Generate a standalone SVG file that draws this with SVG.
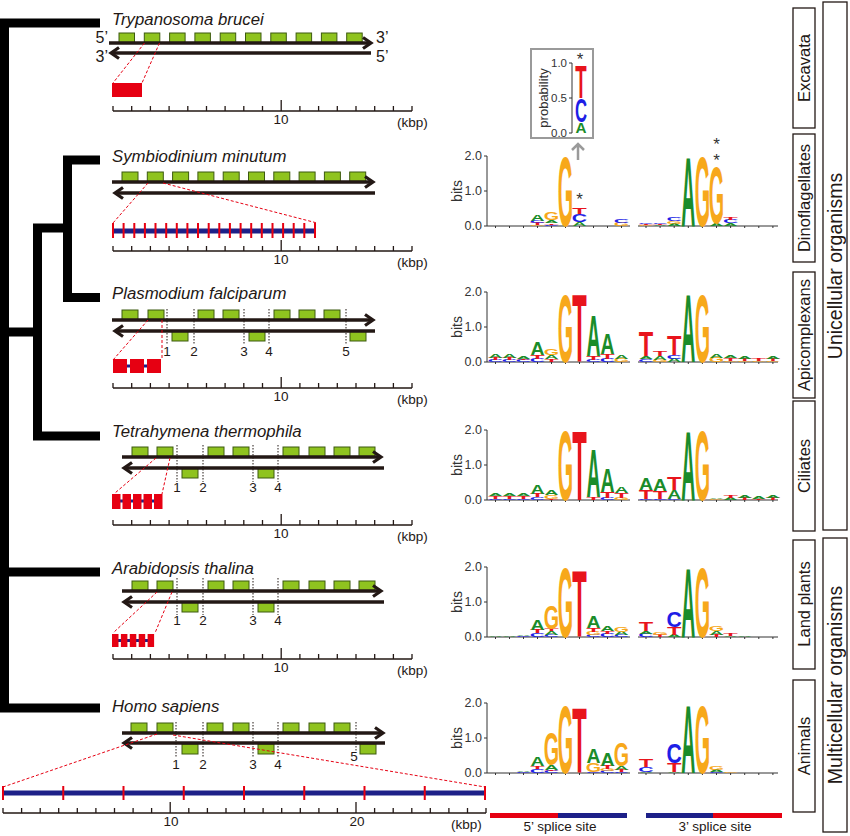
<svg xmlns="http://www.w3.org/2000/svg" width="850" height="836" viewBox="0 0 850 836">
<style>
.tree{fill:none;stroke:#000;stroke-width:9;stroke-linejoin:miter;stroke-linecap:butt}
.ln{fill:none;stroke:#231815;stroke-width:3.5}
.gb{fill:#8fc31f;stroke:#3d5a10;stroke-width:1}
.dot{fill:none;stroke:#231815;stroke-width:1;stroke-dasharray:1.5 1.5}
.rd{fill:none;stroke:#e60012;stroke-width:1;stroke-dasharray:3 2}
.rt{fill:none;stroke:#e60012;stroke-width:2}
.rb{fill:#e60012}
.bb{fill:#1d2088}
.sc{fill:none;stroke:#231815;stroke-width:1.3}
.ax{fill:none;stroke:#333;stroke-width:1}
.sp{font-family:"Liberation Sans",Arial,sans-serif;font-style:italic;font-size:16.8px;fill:#231815}
.tx{font-family:"Liberation Sans",Arial,sans-serif;font-size:13.5px;fill:#231815}
.pr{font-family:"Liberation Sans",Arial,sans-serif;font-size:16px;fill:#231815}
.mid{text-anchor:middle}
.end{text-anchor:end}
.tl{font-family:"Liberation Sans",Arial,sans-serif;font-size:12.5px;fill:#333;text-anchor:end}
.bl{font-family:"Liberation Sans",Arial,sans-serif;font-size:14px;fill:#333;text-anchor:middle}
.st{font-family:"Liberation Sans",Arial,sans-serif;font-size:17px;fill:#333;text-anchor:middle}
.l{font-family:"Liberation Sans",Arial,sans-serif;font-weight:bold;font-size:10px;text-anchor:middle}
.a{fill:#1a8c2a}.c{fill:#1e1ee6}.g{fill:#f7a81b}.t{fill:#e8141c}
.bx{fill:none;stroke:#231815;stroke-width:1.3}
.gl{font-family:"Liberation Sans",Arial,sans-serif;font-size:16.5px;fill:#231815;text-anchor:middle}
.ol{font-family:"Liberation Sans",Arial,sans-serif;font-size:19.5px;fill:#231815;text-anchor:middle}
</style>
<defs>
<marker id="ah" markerUnits="userSpaceOnUse" markerWidth="16" markerHeight="16" viewBox="-12 -8 16 16" refX="0" refY="0" orient="auto" overflow="visible">
<path d="M-8,-5.5 L0,0 L-8,5.5" fill="none" stroke="#231815" stroke-width="3.2"/>
</marker>
<path id="sb" class="sc" d="M113,0 H412 M113,0 v-5 M131.7,0 v-5 M150.4,0 v-5 M169.1,0 v-5 M187.8,0 v-5 M206.5,0 v-5 M225.1,0 v-5 M243.8,0 v-5 M262.5,0 v-5 M281.2,0 v-11 M299.9,0 v-5 M318.6,0 v-5 M337.3,0 v-5 M356,0 v-5 M374.7,0 v-5 M393.4,0 v-5 M412,0 v-5"/>
<path id="axis" class="ax" d="M487,-70 V0 M484,-70 H487 M484,-35 H487 M484,0 H487 M487,0 H630 M638,0 H778 M495.5,0 v2 M509.5,0 v2 M523.5,0 v2 M537.5,0 v2 M551.5,0 v2 M565.5,0 v2 M579.5,0 v2 M593.5,0 v2 M607.5,0 v2 M621.5,0 v2 M646,0 v2 M660.1,0 v2 M674.2,0 v2 M688.3,0 v2 M702.4,0 v2 M716.5,0 v2 M730.6,0 v2 M744.7,0 v2 M758.8,0 v2 M772.9,0 v2"/>
</defs>

<g id="connectors">
<path class="tree" d="M100,23 H4.5 V708 H100"/>
<path class="tree" d="M100,160 H67.5 V297.5 H100"/>
<path class="tree" d="M67.5,228 H37.5 V436 H100"/>
<path class="tree" d="M4.5,332 H37.5"/>
<path class="tree" d="M4.5,572 H100"/>
</g>

<g id="trypanosoma">
<text class="sp" x="112" y="25">Trypanosoma brucei</text>
<g class="gb">
<rect x="119" y="33" width="15.5" height="10"/><rect x="144.3" y="33" width="15.5" height="10"/><rect x="169.6" y="33" width="15.5" height="10"/><rect x="194.9" y="33" width="15.5" height="10"/><rect x="220.2" y="33" width="15.5" height="10"/><rect x="245.5" y="33" width="15.5" height="10"/><rect x="270.8" y="33" width="15.5" height="10"/><rect x="296.1" y="33" width="15.5" height="10"/><rect x="321.4" y="33" width="15.5" height="10"/><rect x="346.7" y="33" width="15.5" height="10"/>
</g>
<path class="ln" d="M109,43 H371" marker-end="url(#ah)"/>
<path class="ln" d="M371,53 H111" marker-end="url(#ah)"/>
<text class="pr end" x="108" y="43">5’</text>
<text class="pr" x="376" y="43">3’</text>
<text class="pr end" x="108" y="62">3’</text>
<text class="pr" x="376" y="62">5’</text>
<path class="rd" d="M144.5,43 L113,83 M159.5,43 L142,83"/>
<rect class="rb" x="112" y="83" width="30" height="14"/>
<use href="#sb" y="111"/>
<text class="tx mid" x="281" y="124">10</text>
<text class="tx" x="397" y="127">(kbp)</text>
</g>

<g id="symbiodinium">
<text class="sp" x="112" y="162">Symbiodinium minutum</text>
<g class="gb">
<rect x="122" y="172" width="16" height="10"/><rect x="147.3" y="172" width="16" height="10"/><rect x="172.6" y="172" width="16" height="10"/><rect x="197.9" y="172" width="16" height="10"/><rect x="223.2" y="172" width="16" height="10"/><rect x="248.5" y="172" width="16" height="10"/><rect x="273.8" y="172" width="16" height="10"/><rect x="299.1" y="172" width="16" height="10"/><rect x="324.4" y="172" width="16" height="10"/><rect x="349.7" y="172" width="16" height="10"/>
</g>
<path class="ln" d="M112,182 H373" marker-end="url(#ah)"/>
<path class="ln" d="M375,193 H115" marker-end="url(#ah)"/>
<path class="rd" d="M148,183 L113,223 M163,183 L317,223"/>
<rect class="bb" x="113" y="228.5" width="202" height="5"/>
<path class="rt" d="M113,223 V238 M123.6,223 V238 M134.3,223 V238 M144.9,223 V238 M155.5,223 V238 M166.2,223 V238 M176.8,223 V238 M187.4,223 V238 M198,223 V238 M208.7,223 V238 M219.3,223 V238 M229.9,223 V238 M240.6,223 V238 M251.2,223 V238 M261.8,223 V238 M272.5,223 V238 M283.1,223 V238 M293.7,223 V238 M304.3,223 V238 M315,223 V238"/>
<use href="#sb" y="251"/>
<text class="tx mid" x="281" y="264">10</text>
<text class="tx" x="397" y="267">(kbp)</text>
</g>

<g id="plasmodium">
<text class="sp" x="112" y="299">Plasmodium falciparum</text>
<g class="gb">
<rect x="122" y="310" width="16" height="10"/><rect x="148" y="310" width="16" height="10"/><rect x="198" y="310" width="16" height="10"/><rect x="223" y="310" width="16" height="10"/><rect x="274" y="310" width="16" height="10"/><rect x="299" y="310" width="16" height="10"/><rect x="324" y="310" width="16" height="10"/>
<rect x="172" y="331" width="16" height="10"/><rect x="249" y="331" width="16" height="10"/><rect x="350" y="331" width="16" height="10"/>
</g>
<path class="ln" d="M112,320 H373" marker-end="url(#ah)"/>
<path class="ln" d="M375,331 H115" marker-end="url(#ah)"/>
<path class="dot" d="M167,309 V345 M194,309 V345 M244,309 V345 M269,309 V345 M346,309 V345"/>
<text class="tx mid" x="167" y="356">1</text><text class="tx mid" x="194" y="356">2</text><text class="tx mid" x="244" y="356">3</text><text class="tx mid" x="269" y="356">4</text><text class="tx mid" x="346" y="356">5</text>
<path class="rd" d="M148,320 L113,360 M162,320 L162,360"/>
<rect class="bb" x="113" y="364.5" width="48" height="3"/>
<rect class="rb" x="113" y="359" width="14" height="14"/><rect class="rb" x="130" y="359" width="14" height="14"/><rect class="rb" x="147" y="359" width="14" height="14"/>
<use href="#sb" y="388"/>
<text class="tx mid" x="281" y="401">10</text>
<text class="tx" x="397" y="404">(kbp)</text>
</g>

<g id="tetrahymena">
<text class="sp" x="112" y="437">Tetrahymena thermophila</text>
<g class="gb">
<rect x="132" y="447" width="16" height="10"/><rect x="157" y="447" width="16" height="10"/><rect x="208" y="447" width="16" height="10"/><rect x="233" y="447" width="16" height="10"/><rect x="283" y="447" width="16" height="10"/><rect x="309" y="447" width="16" height="10"/><rect x="334" y="447" width="16" height="10"/><rect x="359" y="447" width="16" height="10"/>
<rect x="182" y="468" width="16" height="10"/><rect x="258" y="468" width="16" height="10"/>
</g>
<path class="ln" d="M122,457 H381" marker-end="url(#ah)"/>
<path class="ln" d="M384,468 H124" marker-end="url(#ah)"/>
<path class="dot" d="M177,445 V482 M203,445 V482 M253,445 V482 M278,445 V482"/>
<text class="tx mid" x="177" y="492">1</text><text class="tx mid" x="203" y="492">2</text><text class="tx mid" x="253" y="492">3</text><text class="tx mid" x="278" y="492">4</text>
<path class="rd" d="M156,458 L115,493 M170,458 L162,494"/>
<rect class="bb" x="112" y="499.5" width="50" height="3"/>
<rect class="rb" x="112" y="494" width="8.5" height="15"/><rect class="rb" x="122.5" y="494" width="8.5" height="15"/><rect class="rb" x="133" y="494" width="8.5" height="15"/><rect class="rb" x="143.5" y="494" width="8.5" height="15"/><rect class="rb" x="154" y="494" width="8.5" height="15"/>
<use href="#sb" y="525"/>
<text class="tx mid" x="281" y="538">10</text>
<text class="tx" x="397" y="541">(kbp)</text>
</g>

<g id="arabidopsis">
<text class="sp" x="112" y="574">Arabidopsis thalina</text>
<g class="gb">
<rect x="132" y="581" width="16" height="10"/><rect x="157" y="581" width="16" height="10"/><rect x="208" y="581" width="16" height="10"/><rect x="233" y="581" width="16" height="10"/><rect x="283" y="581" width="16" height="10"/><rect x="309" y="581" width="16" height="10"/><rect x="334" y="581" width="16" height="10"/><rect x="359" y="581" width="16" height="10"/>
<rect x="182" y="602" width="16" height="10"/><rect x="258" y="602" width="16" height="10"/>
</g>
<path class="ln" d="M122,591 H381" marker-end="url(#ah)"/>
<path class="ln" d="M384,602 H124" marker-end="url(#ah)"/>
<path class="dot" d="M177,578 V615 M203,578 V615 M253,578 V615 M278,578 V615"/>
<text class="tx mid" x="177" y="625">1</text><text class="tx mid" x="203" y="625">2</text><text class="tx mid" x="253" y="625">3</text><text class="tx mid" x="278" y="625">4</text>
<path class="rd" d="M157,592 L113,633 M172,592 L155,633"/>
<rect class="bb" x="112" y="639" width="42" height="3"/>
<rect class="rb" x="112" y="634" width="6.5" height="13"/><rect class="rb" x="120.9" y="634" width="6.5" height="13"/><rect class="rb" x="129.8" y="634" width="6.5" height="13"/><rect class="rb" x="138.7" y="634" width="6.5" height="13"/><rect class="rb" x="147.6" y="634" width="6.5" height="13"/>
<use href="#sb" y="659"/>
<text class="tx mid" x="281" y="672">10</text>
<text class="tx" x="397" y="675">(kbp)</text>
</g>

<g id="homo">
<text class="sp" x="112" y="712">Homo sapiens</text>
<g class="gb">
<rect x="131" y="723" width="16" height="10"/><rect x="157" y="723" width="16" height="10"/><rect x="207" y="723" width="16" height="10"/><rect x="233" y="723" width="16" height="10"/><rect x="283" y="723" width="16" height="10"/><rect x="309" y="723" width="16" height="10"/><rect x="334" y="723" width="16" height="10"/>
<rect x="182" y="744" width="16" height="10"/><rect x="258" y="744" width="16" height="10"/><rect x="360" y="744" width="16" height="10"/>
</g>
<path class="ln" d="M122,733 H383" marker-end="url(#ah)"/>
<path class="ln" d="M385,743 H124" marker-end="url(#ah)"/>
<path class="dot" d="M176,722 V757 M203,722 V757 M253,722 V757 M278,722 V757 M356,722 V751"/>
<text class="tx mid" x="176" y="769">1</text><text class="tx mid" x="203" y="769">2</text><text class="tx mid" x="253" y="769">3</text><text class="tx mid" x="278" y="769">4</text><text class="tx mid" x="354" y="761">5</text>
<path class="rd" d="M157,734 L3,787 M173,735 L485,787"/>
<rect class="bb" x="3" y="790.5" width="482" height="5"/>
<path class="rt" d="M3,786 V800 M63.25,786 V800 M123.5,786 V800 M183.75,786 V800 M244,786 V800 M304.25,786 V800 M364.5,786 V800 M424.75,786 V800 M485,786 V800"/>
<path class="sc" d="M3,813 H486 M3,813 v-5 M21.6,813 v-5 M40.2,813 v-5 M58.7,813 v-5 M77.3,813 v-5 M95.9,813 v-5 M114.5,813 v-5 M133.1,813 v-5 M151.6,813 v-5 M170.2,813 v-11 M188.8,813 v-5 M207.4,813 v-5 M226,813 v-5 M244.5,813 v-5 M263.1,813 v-5 M281.7,813 v-5 M300.3,813 v-5 M318.9,813 v-5 M337.4,813 v-5 M356,813 v-11 M374.6,813 v-5 M393.2,813 v-5 M411.8,813 v-5 M430.3,813 v-5 M448.9,813 v-5 M467.5,813 v-5 M486,813 v-5"/>
<text class="tx mid" x="171" y="826">10</text>
<text class="tx mid" x="357" y="826">20</text>
<text class="tx" x="451" y="829">(kbp)</text>
</g>

<g id="inset">
<rect x="531" y="49" width="62" height="89" fill="#fff" stroke="#9a9a9a" stroke-width="2"/>
<path class="ax" d="M572,63 V133 M569,63 H572 M569,98 H572 M569,133 H572"/>
<text class="tl" x="567" y="67" style="font-size:11.5px">1.0</text><text class="tl" x="567" y="102" style="font-size:11.5px">0.5</text><text class="tl" x="567" y="137" style="font-size:11.5px">0.0</text>
<text class="bl" transform="translate(548,98) rotate(-90)" style="font-size:13px">probability</text>
<text class="l a" transform="translate(581,133) scale(1.53,1.397)">A</text>
<text class="l c" transform="translate(581,122) scale(1.67,3.352)">C</text>
<text class="l t" transform="translate(581,97.5) scale(1.86,4.61)">T</text>
<text class="st" x="580" y="65">*</text>
<path d="M578,160 V145 M572,150 L578,144 L584,150" fill="none" stroke="#9a9a9a" stroke-width="2.5"/>
</g>

<g id="logo-symbiodinium" transform="translate(0,226)">
<use href="#axis"/>
<text class="tl" x="482" y="-66">2.0</text><text class="tl" x="482" y="-31">1.0</text><text class="tl" x="482" y="4">0.0</text>
<text class="bl" transform="translate(462,-35) rotate(-90)">bits</text>
<text class="l g" transform="translate(537.5,0) scale(1.97,.209)">G</text>
<text class="l t" transform="translate(537.5,-1.5) scale(2.37,.279)">T</text>
<text class="l c" transform="translate(537.5,-3.5) scale(2.12,.279)">C</text>
<text class="l a" transform="translate(537.5,-5.5) scale(1.94,.908)">A</text>
<text class="l c" transform="translate(551.5,0) scale(2.12,.209)">C</text>
<text class="l t" transform="translate(551.5,-1.5) scale(2.37,.209)">T</text>
<text class="l a" transform="translate(551.5,-3) scale(1.94,.419)">A</text>
<text class="l g" transform="translate(551.5,-6) scale(1.97,1.047)">G</text>
<text class="l g" transform="translate(565.5,0) scale(1.97,9.777)">G</text>
<text class="l a" transform="translate(579.5,0) scale(1.94,.559)">A</text>
<text class="l c" transform="translate(579.5,-4) scale(2.12,1.117)">C</text>
<text class="l t" transform="translate(579.5,-12) scale(2.37,.978)">T</text>
<text class="l g" transform="translate(621.5,0) scale(1.97,.489)">G</text>
<text class="l c" transform="translate(621.5,-3.5) scale(2.12,.489)">C</text>
<text class="l g" transform="translate(646,0) scale(1.97,.14)">G</text>
<text class="l t" transform="translate(646,-1) scale(2.37,.14)">T</text>
<text class="l c" transform="translate(646,-2) scale(2.12,.209)">C</text>
<text class="l a" transform="translate(660.1,0) scale(1.94,.14)">A</text>
<text class="l t" transform="translate(660.1,-1) scale(2.37,.14)">T</text>
<text class="l c" transform="translate(660.1,-2) scale(2.12,.209)">C</text>
<text class="l a" transform="translate(674.2,0) scale(1.94,.279)">A</text>
<text class="l g" transform="translate(674.2,-2) scale(1.97,.419)">G</text>
<text class="l c" transform="translate(674.2,-5) scale(2.12,.559)">C</text>
<text class="l a" transform="translate(688.3,0) scale(1.94,9.777)">A</text>
<text class="l g" transform="translate(702.4,0) scale(1.97,9.777)">G</text>
<text class="l a" transform="translate(716.5,0) scale(1.94,.419)">A</text>
<text class="l g" transform="translate(716.5,-3) scale(1.97,7.961)">G</text>
<text class="l a" transform="translate(730.6,0) scale(1.94,.419)">A</text>
<text class="l c" transform="translate(730.6,-3) scale(2.12,.489)">C</text>
<text class="l t" transform="translate(730.6,-6.5) scale(2.37,.349)">T</text>
<text class="st" x="579.5" y="-21">*</text>
<text class="st" x="716.5" y="-76">*</text>
<text class="st" x="716.5" y="-60">*</text>
</g>

<g id="logo-plasmodium" transform="translate(0,362)">
<use href="#axis"/>
<text class="tl" x="482" y="-66">2.0</text><text class="tl" x="482" y="-31">1.0</text><text class="tl" x="482" y="4">0.0</text>
<text class="bl" transform="translate(462,-35) rotate(-90)">bits</text>
<text class="l c" transform="translate(495.5,0) scale(2.12,.279)">C</text>
<text class="l t" transform="translate(495.5,-2) scale(2.37,.349)">T</text>
<text class="l a" transform="translate(495.5,-4.5) scale(1.94,.489)">A</text>
<text class="l c" transform="translate(509.5,0) scale(2.12,.279)">C</text>
<text class="l t" transform="translate(509.5,-2) scale(2.37,.349)">T</text>
<text class="l a" transform="translate(509.5,-4.5) scale(1.94,.559)">A</text>
<text class="l c" transform="translate(523.5,0) scale(2.12,.279)">C</text>
<text class="l t" transform="translate(523.5,-2) scale(2.37,.209)">T</text>
<text class="l a" transform="translate(523.5,-3.5) scale(1.94,.419)">A</text>
<text class="l c" transform="translate(537.5,0) scale(2.12,.489)">C</text>
<text class="l t" transform="translate(537.5,-3.5) scale(2.37,.489)">T</text>
<text class="l a" transform="translate(537.5,-7) scale(1.94,1.816)">A</text>
<text class="l t" transform="translate(551.5,0) scale(2.37,.419)">T</text>
<text class="l a" transform="translate(551.5,-3) scale(1.94,.559)">A</text>
<text class="l g" transform="translate(551.5,-7) scale(1.97,.978)">G</text>
<text class="l g" transform="translate(565.5,0) scale(1.97,9.637)">G</text>
<text class="l t" transform="translate(579.5,0) scale(2.37,9.637)">T</text>
<text class="l c" transform="translate(593.5,0) scale(2.12,.279)">C</text>
<text class="l t" transform="translate(593.5,-2) scale(2.37,.559)">T</text>
<text class="l a" transform="translate(593.5,-6) scale(1.94,5.726)">A</text>
<text class="l c" transform="translate(607.5,0) scale(2.12,.489)">C</text>
<text class="l t" transform="translate(607.5,-3.5) scale(2.37,.628)">T</text>
<text class="l a" transform="translate(607.5,-8) scale(1.94,2.863)">A</text>
<text class="l g" transform="translate(621.5,0) scale(1.97,.489)">G</text>
<text class="l a" transform="translate(621.5,-3.5) scale(1.94,.489)">A</text>
<text class="l c" transform="translate(646,0) scale(2.12,.419)">C</text>
<text class="l a" transform="translate(646,-3) scale(1.94,.419)">A</text>
<text class="l t" transform="translate(646,-6) scale(2.37,3.492)">T</text>
<text class="l g" transform="translate(660.1,0) scale(1.97,.279)">G</text>
<text class="l a" transform="translate(660.1,-2) scale(1.94,.559)">A</text>
<text class="l t" transform="translate(660.1,-6) scale(2.37,.628)">T</text>
<text class="l a" transform="translate(674.2,0) scale(1.94,.489)">A</text>
<text class="l c" transform="translate(674.2,-3.5) scale(2.12,.559)">C</text>
<text class="l t" transform="translate(674.2,-7.5) scale(2.37,2.793)">T</text>
<text class="l a" transform="translate(688.3,0) scale(1.94,9.637)">A</text>
<text class="l g" transform="translate(702.4,0) scale(1.97,9.637)">G</text>
<text class="l g" transform="translate(716.5,0) scale(1.97,.628)">G</text>
<text class="l a" transform="translate(716.5,-4.5) scale(1.94,.489)">A</text>
<text class="l g" transform="translate(730.6,0) scale(1.97,.209)">G</text>
<text class="l t" transform="translate(730.6,-1.5) scale(2.37,.349)">T</text>
<text class="l a" transform="translate(730.6,-4) scale(1.94,.419)">A</text>
<text class="l g" transform="translate(744.7,0) scale(1.97,.209)">G</text>
<text class="l t" transform="translate(744.7,-1.5) scale(2.37,.279)">T</text>
<text class="l a" transform="translate(744.7,-3.5) scale(1.94,.419)">A</text>
<text class="l g" transform="translate(758.8,0) scale(1.97,.209)">G</text>
<text class="l t" transform="translate(758.8,-1.5) scale(2.37,.349)">T</text>
<text class="l g" transform="translate(772.9,0) scale(1.97,.209)">G</text>
<text class="l t" transform="translate(772.9,-1.5) scale(2.37,.279)">T</text>
<text class="l a" transform="translate(772.9,-3.5) scale(1.94,.279)">A</text>
</g>

<g id="logo-tetrahymena" transform="translate(0,500)">
<use href="#axis"/>
<text class="tl" x="482" y="-66">2.0</text><text class="tl" x="482" y="-31">1.0</text><text class="tl" x="482" y="4">0.0</text>
<text class="bl" transform="translate(462,-35) rotate(-90)">bits</text>
<text class="l c" transform="translate(495.5,0) scale(2.12,.209)">C</text>
<text class="l t" transform="translate(495.5,-1.5) scale(2.37,.349)">T</text>
<text class="l a" transform="translate(495.5,-4) scale(1.94,.349)">A</text>
<text class="l c" transform="translate(509.5,0) scale(2.12,.209)">C</text>
<text class="l t" transform="translate(509.5,-1.5) scale(2.37,.349)">T</text>
<text class="l a" transform="translate(509.5,-4) scale(1.94,.419)">A</text>
<text class="l c" transform="translate(523.5,0) scale(2.12,.209)">C</text>
<text class="l t" transform="translate(523.5,-1.5) scale(2.37,.349)">T</text>
<text class="l a" transform="translate(523.5,-4) scale(1.94,.349)">A</text>
<text class="l c" transform="translate(537.5,0) scale(2.12,.419)">C</text>
<text class="l t" transform="translate(537.5,-3) scale(2.37,.489)">T</text>
<text class="l a" transform="translate(537.5,-6.5) scale(1.94,1.327)">A</text>
<text class="l t" transform="translate(551.5,0) scale(2.37,.209)">T</text>
<text class="l g" transform="translate(551.5,-1.5) scale(1.97,.489)">G</text>
<text class="l a" transform="translate(551.5,-5) scale(1.94,.628)">A</text>
<text class="l g" transform="translate(565.5,0) scale(1.97,9.777)">G</text>
<text class="l t" transform="translate(579.5,0) scale(2.37,9.777)">T</text>
<text class="l t" transform="translate(593.5,0) scale(2.37,.419)">T</text>
<text class="l a" transform="translate(593.5,-3) scale(1.94,6.844)">A</text>
<text class="l c" transform="translate(607.5,0) scale(2.12,.279)">C</text>
<text class="l t" transform="translate(607.5,-2) scale(2.37,.908)">T</text>
<text class="l a" transform="translate(607.5,-8.5) scale(1.94,3.352)">A</text>
<text class="l g" transform="translate(621.5,0) scale(1.97,.349)">G</text>
<text class="l t" transform="translate(621.5,-2.5) scale(2.37,.628)">T</text>
<text class="l a" transform="translate(621.5,-7) scale(1.94,.908)">A</text>
<text class="l c" transform="translate(646,0) scale(2.12,.209)">C</text>
<text class="l t" transform="translate(646,-1.5) scale(2.37,1.257)">T</text>
<text class="l a" transform="translate(646,-10.5) scale(1.94,1.676)">A</text>
<text class="l c" transform="translate(660.1,0) scale(2.12,.209)">C</text>
<text class="l t" transform="translate(660.1,-1.5) scale(2.37,1.047)">T</text>
<text class="l a" transform="translate(660.1,-9) scale(1.94,1.676)">A</text>
<text class="l c" transform="translate(674.2,0) scale(2.12,.209)">C</text>
<text class="l a" transform="translate(674.2,-1.5) scale(1.94,1.187)">A</text>
<text class="l t" transform="translate(674.2,-10) scale(2.37,1.816)">T</text>
<text class="l a" transform="translate(688.3,0) scale(1.94,9.777)">A</text>
<text class="l g" transform="translate(702.4,0) scale(1.97,9.777)">G</text>
<text class="l g" transform="translate(716.5,0) scale(1.97,.14)">G</text>
<text class="l a" transform="translate(716.5,-1) scale(1.94,.209)">A</text>
<text class="l a" transform="translate(730.6,0) scale(1.94,.279)">A</text>
<text class="l t" transform="translate(730.6,-2) scale(2.37,.419)">T</text>
<text class="l t" transform="translate(744.7,0) scale(2.37,.349)">T</text>
<text class="l a" transform="translate(744.7,-2.5) scale(1.94,.419)">A</text>
<text class="l t" transform="translate(758.8,0) scale(2.37,.209)">T</text>
<text class="l a" transform="translate(758.8,-1.5) scale(1.94,.279)">A</text>
<text class="l t" transform="translate(772.9,0) scale(2.37,.279)">T</text>
<text class="l a" transform="translate(772.9,-2) scale(1.94,.279)">A</text>
</g>

<g id="logo-arabidopsis" transform="translate(0,637)">
<use href="#axis"/>
<text class="tl" x="482" y="-66">2.0</text><text class="tl" x="482" y="-31">1.0</text><text class="tl" x="482" y="4">0.0</text>
<text class="bl" transform="translate(462,-35) rotate(-90)">bits</text>
<text class="l a" transform="translate(495.5,0) scale(1.94,.14)">A</text>
<text class="l a" transform="translate(509.5,0) scale(1.94,.14)">A</text>
<text class="l c" transform="translate(523.5,0) scale(2.12,.209)">C</text>
<text class="l a" transform="translate(523.5,-1.5) scale(1.94,.209)">A</text>
<text class="l c" transform="translate(537.5,0) scale(2.12,.559)">C</text>
<text class="l t" transform="translate(537.5,-4) scale(2.37,.489)">T</text>
<text class="l a" transform="translate(537.5,-7.5) scale(1.94,1.397)">A</text>
<text class="l c" transform="translate(551.5,0) scale(2.12,.279)">C</text>
<text class="l a" transform="translate(551.5,-2) scale(1.94,.559)">A</text>
<text class="l t" transform="translate(551.5,-6) scale(2.37,.349)">T</text>
<text class="l g" transform="translate(551.5,-8.5) scale(1.97,3.282)">G</text>
<text class="l g" transform="translate(565.5,0) scale(1.97,9.916)">G</text>
<text class="l t" transform="translate(579.5,0) scale(2.37,9.497)">T</text>
<text class="l c" transform="translate(593.5,0) scale(2.12,.279)">C</text>
<text class="l g" transform="translate(593.5,-2) scale(1.97,.489)">G</text>
<text class="l t" transform="translate(593.5,-5.5) scale(2.37,.489)">T</text>
<text class="l a" transform="translate(593.5,-9) scale(1.94,1.676)">A</text>
<text class="l c" transform="translate(607.5,0) scale(2.12,.461)">C</text>
<text class="l t" transform="translate(607.5,-3.3) scale(2.37,.377)">T</text>
<text class="l a" transform="translate(607.5,-6) scale(1.94,.698)">A</text>
<text class="l c" transform="translate(621.5,0) scale(2.12,.279)">C</text>
<text class="l a" transform="translate(621.5,-2) scale(1.94,.489)">A</text>
<text class="l g" transform="translate(621.5,-5.5) scale(1.97,.698)">G</text>
<text class="l c" transform="translate(646,0) scale(2.12,.489)">C</text>
<text class="l a" transform="translate(646,-3.5) scale(1.94,.419)">A</text>
<text class="l t" transform="translate(646,-6.5) scale(2.37,1.257)">T</text>
<text class="l t" transform="translate(660.1,0) scale(2.37,.279)">T</text>
<text class="l g" transform="translate(660.1,-2) scale(1.97,.349)">G</text>
<text class="l a" transform="translate(674.2,0) scale(1.94,.349)">A</text>
<text class="l t" transform="translate(674.2,-2.5) scale(2.37,1.047)">T</text>
<text class="l c" transform="translate(674.2,-10) scale(2.12,2.235)">C</text>
<text class="l a" transform="translate(688.3,0) scale(1.94,9.916)">A</text>
<text class="l g" transform="translate(702.4,0) scale(1.97,9.916)">G</text>
<text class="l t" transform="translate(716.5,0) scale(2.37,.279)">T</text>
<text class="l a" transform="translate(716.5,-2) scale(1.94,.559)">A</text>
<text class="l g" transform="translate(716.5,-6) scale(1.97,.698)">G</text>
<text class="l a" transform="translate(730.6,0) scale(1.94,.209)">A</text>
<text class="l t" transform="translate(730.6,-1.5) scale(2.37,.279)">T</text>
<text class="l a" transform="translate(744.7,0) scale(1.94,.14)">A</text>
</g>

<g id="logo-homo" transform="translate(0,773)">
<use href="#axis"/>
<text class="tl" x="482" y="-66">2.0</text><text class="tl" x="482" y="-31">1.0</text><text class="tl" x="482" y="4">0.0</text>
<text class="bl" transform="translate(462,-35) rotate(-90)">bits</text>
<text class="l c" transform="translate(523.5,0) scale(2.12,.209)">C</text>
<text class="l a" transform="translate(523.5,-1.5) scale(1.94,.209)">A</text>
<text class="l c" transform="translate(537.5,0) scale(2.12,.559)">C</text>
<text class="l t" transform="translate(537.5,-4) scale(2.37,.419)">T</text>
<text class="l a" transform="translate(537.5,-7) scale(1.94,1.327)">A</text>
<text class="l c" transform="translate(551.5,0) scale(2.12,.279)">C</text>
<text class="l t" transform="translate(551.5,-2) scale(2.37,.209)">T</text>
<text class="l a" transform="translate(551.5,-3.5) scale(1.94,.628)">A</text>
<text class="l g" transform="translate(551.5,-8) scale(1.97,4.609)">G</text>
<text class="l g" transform="translate(565.5,0) scale(1.97,9.637)">G</text>
<text class="l t" transform="translate(579.5,0) scale(2.37,9.218)">T</text>
<text class="l c" transform="translate(593.5,0) scale(2.12,.182)">C</text>
<text class="l g" transform="translate(593.5,-1.3) scale(1.97,1.187)">G</text>
<text class="l a" transform="translate(593.5,-9.8) scale(1.94,2.095)">A</text>
<text class="l c" transform="translate(607.5,0) scale(2.12,.279)">C</text>
<text class="l g" transform="translate(607.5,-2) scale(1.97,.279)">G</text>
<text class="l t" transform="translate(607.5,-4) scale(2.37,.489)">T</text>
<text class="l a" transform="translate(607.5,-7.5) scale(1.94,1.885)">A</text>
<text class="l c" transform="translate(621.5,0) scale(2.12,.209)">C</text>
<text class="l t" transform="translate(621.5,-1.5) scale(2.37,.279)">T</text>
<text class="l a" transform="translate(621.5,-3.5) scale(1.94,.559)">A</text>
<text class="l g" transform="translate(621.5,-7.5) scale(1.97,3.282)">G</text>
<text class="l a" transform="translate(646,0) scale(1.94,.209)">A</text>
<text class="l c" transform="translate(646,-1.5) scale(2.12,.628)">C</text>
<text class="l t" transform="translate(646,-6) scale(2.37,1.117)">T</text>
<text class="l a" transform="translate(674.2,0) scale(1.94,.182)">A</text>
<text class="l t" transform="translate(674.2,-1.3) scale(2.37,1.187)">T</text>
<text class="l c" transform="translate(674.2,-9.8) scale(2.12,2.793)">C</text>
<text class="l a" transform="translate(688.3,0) scale(1.94,9.637)">A</text>
<text class="l g" transform="translate(702.4,0) scale(1.97,9.637)">G</text>
<text class="l c" transform="translate(716.5,0) scale(2.12,.209)">C</text>
<text class="l a" transform="translate(716.5,-1.5) scale(1.94,.279)">A</text>
<text class="l g" transform="translate(716.5,-3.5) scale(1.97,.489)">G</text>
<text class="l g" transform="translate(730.6,0) scale(1.97,.14)">G</text>
</g>

<g id="splice-sites">
<rect class="rb" x="490" y="813" width="68" height="5"/>
<rect class="bb" x="558" y="813" width="69" height="5"/>
<rect class="bb" x="646" y="813" width="67" height="5"/>
<rect class="rb" x="713" y="813" width="69" height="5"/>
<text class="tx mid" x="560" y="831">5’ splice site</text>
<text class="tx mid" x="715" y="831">3’ splice site</text>
</g>

<g id="excavata"><rect class="bx" x="793" y="8" width="22" height="120"/><text class="gl" transform="translate(810,68) rotate(-90)">Excavata</text></g>
<g id="dinoflagellates"><rect class="bx" x="793" y="134" width="22" height="128"/><text class="gl" transform="translate(810,198) rotate(-90)">Dinoflagellates</text></g>
<g id="apicomplexans"><rect class="bx" x="793" y="272" width="22" height="126"/><text class="gl" transform="translate(810,335) rotate(-90)">Apicomplexans</text></g>
<g id="ciliates"><rect class="bx" x="793" y="401" width="22" height="130"/><text class="gl" transform="translate(810,466) rotate(-90)">Ciliates</text></g>
<g id="landplants"><rect class="bx" x="793" y="540" width="22" height="129"/><text class="gl" transform="translate(810,604) rotate(-90)">Land plants</text></g>
<g id="animals"><rect class="bx" x="793" y="680" width="22" height="132"/><text class="gl" transform="translate(810,746) rotate(-90)">Animals</text></g>
<g id="unicellular"><rect class="bx" x="823" y="2" width="24" height="528"/><text class="ol" transform="translate(842,266) rotate(-90)">Unicellular organisms</text></g>
<g id="multicellular"><rect class="bx" x="823" y="538" width="24" height="294"/><text class="ol" transform="translate(842,685) rotate(-90)">Multicellular organisms</text></g>
</svg>
